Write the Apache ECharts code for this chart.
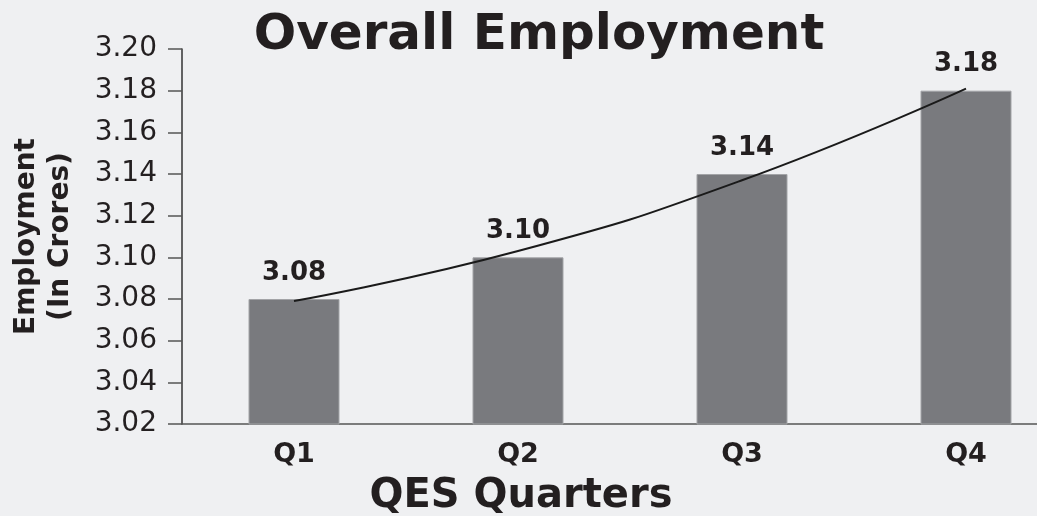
<!DOCTYPE html>
<html>
<head>
<meta charset="utf-8">
<script src="https://cdn.jsdelivr.net/npm/echarts@6/dist/echarts.min.js"></script>
<style>
html,body{margin:0;padding:0;background:#eff0f2;}
#c{width:1037px;height:516px;}
</style>
</head>
<body>
<div id="c"></div>
<script>
const categories = ['Q1', 'Q2', 'Q3', 'Q4'];
const employment = [3.08, 3.10, 3.14, 3.18];
const trendValues = [3.079, 3.103, 3.137, 3.181];
const yTicks = { min: 3.02, max: 3.20, interval: 0.02 };

const FONT = '"DejaVu Sans", sans-serif';
const DARK = '#231f20';

const chart = echarts.init(document.getElementById('c'), null, { renderer: 'canvas' });
chart.setOption({
  backgroundColor: '#eff0f2',
  animation: false,
  title: [
    {
      text: 'Overall Employment',
      left: 534, top: 6, textAlign: 'center',
      textStyle: { fontFamily: FONT, fontWeight: 'bold', fontSize: 50, color: DARK }
    },
    {
      text: 'QES Quarters',
      left: 516, top: 472, textAlign: 'center',
      textStyle: { fontFamily: FONT, fontWeight: 'bold', fontSize: 40, color: DARK }
    }
  ],
  grid: { left: 182, top: 49, width: 896, bottom: 92, containLabel: false, outerBoundsMode: 'none' },
  xAxis: {
    type: 'category',
    data: categories,
    axisLine: { show: true, lineStyle: { color: '#555', width: 1.5 } },
    axisTick: { show: false },
    axisLabel: { fontFamily: FONT, fontWeight: 'bold', fontSize: 27, color: DARK, margin: 17 }
  },
  yAxis: {
    type: 'value',
    min: yTicks.min, max: yTicks.max, interval: yTicks.interval,
    name: 'Employment\n(In Crores)',
    nameLocation: 'middle', nameRotate: 90, nameGap: 104,
    nameTextStyle: { fontFamily: FONT, fontWeight: 'bold', fontSize: 28, color: DARK, lineHeight: 34 },
    axisLine: { show: true, lineStyle: { color: '#333', width: 1.5 } },
    axisTick: { show: true, length: 14, lineStyle: { color: '#555', width: 1.5 } },
    splitLine: { show: false },
    axisLabel: {
      fontFamily: FONT, fontSize: 28, color: DARK, margin: 25,
      formatter: v => v.toFixed(2)
    }
  },
  series: [
    {
      type: 'bar',
      data: employment,
      barWidth: 91,
      itemStyle: { color: '#797a7e', borderColor: '#a3a4a7', borderWidth: 1 },
      label: {
        show: true, position: 'top', distance: 13,
        fontFamily: FONT, fontWeight: 'bold', fontSize: 26, color: DARK,
        formatter: p => p.value.toFixed(2)
      },
      z: 2
    },
    {
      type: 'line',
      data: trendValues,
      smooth: true,
      showSymbol: false,
      symbol: 'none',
      lineStyle: { color: '#1a1a1a', width: 2 },
      z: 3
    }
  ]
});
</script>
</body>
</html>
